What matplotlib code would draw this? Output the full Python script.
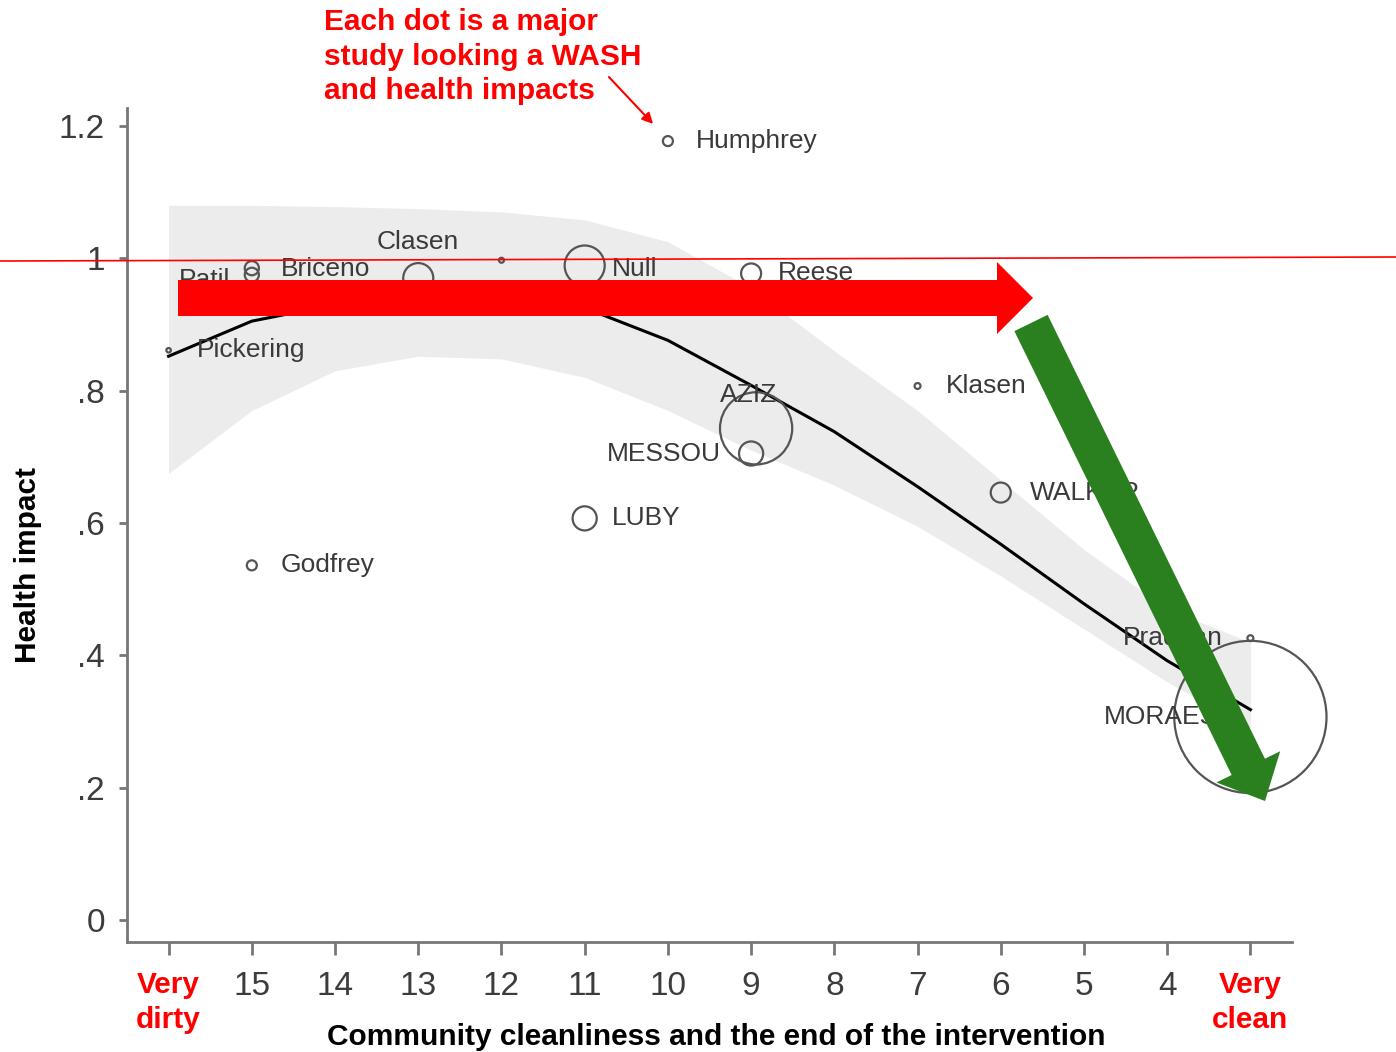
import numpy as np
import matplotlib.pyplot as plt
from matplotlib.patches import Polygon
from matplotlib.lines import Line2D
from matplotlib.transforms import Affine2D

plt.rcParams['font.family'] = ['Liberation Sans', 'DejaVu Sans']

# each study: cleanliness score at the end of the intervention, health impact, study weight
studies = ['Humphrey', 'Patil', 'Briceno', 'Clasen', '', 'Null', 'Reese', 'Pickering',
           'Klasen', 'AZIZ', 'MESSOU', 'LUBY', 'Godfrey', 'WALKER', 'Pradhan', 'MORAES']
cleanliness = [10.0, 15.0, 15.0, 13.0, 12.0, 11.0, 9.0, 16.0,
               7.0, 8.94, 9.0, 11.0, 15.0, 6.0, 3.0, 3.0]
impact = [1.177, 0.985, 0.975, 0.970, 0.997, 0.989, 0.977, 0.861,
          0.807, 0.743, 0.705, 0.607, 0.536, 0.646, 0.426, 0.307]
weight = [1.0, 2.0, 2.0, 9.0, 0.25, 16.0, 4.0, 0.2,
          0.35, 52.0, 5.8, 5.8, 1.0, 4.0, 0.35, 231.0]

# smoothed fit with confidence band
fit_x = [16, 15, 14, 13, 12, 11, 10, 9, 8, 7, 6, 5, 4, 3]
fit_y = [0.852, 0.905, 0.930, 0.945, 0.945, 0.925, 0.876, 0.808, 0.738, 0.655, 0.568, 0.478, 0.392, 0.318]
fit_lo = [0.675, 0.770, 0.830, 0.852, 0.848, 0.820, 0.770, 0.710, 0.657, 0.595, 0.520, 0.440, 0.360, 0.290]
fit_hi = [1.080, 1.080, 1.078, 1.075, 1.070, 1.058, 1.025, 0.955, 0.860, 0.770, 0.665, 0.560, 0.470, 0.420]

xtick_labels = ['Very\ndirty', '15', '14', '13', '12', '11', '10', '9', '8', '7', '6', '5', '4', 'Very\nclean']
yticks = [0, 0.2, 0.4, 0.6, 0.8, 1.0, 1.2]
ytick_labels = ['0', '.2', '.4', '.6', '.8', '1', '1.2']

# label placement (pixel offsets, alignment)
label_pos = {
    'Humphrey': (28, 0, 'left'), 'Patil': (-22, -12, 'right'), 'Briceno': (29, 6, 'left'),
    'Clasen': (0, 36, 'center'), 'Null': (27, -3, 'left'), 'Reese': (27, 0, 'left'),
    'Pickering': (28, 0, 'left'), 'Klasen': (28, 0, 'left'), 'AZIZ': (-7, 33, 'center'),
    'MESSOU': (-30, 0, 'right'), 'LUBY': (27, 0, 'left'), 'Godfrey': (29, 0, 'left'),
    'WALKER': (29, 0, 'left'), 'Pradhan': (-28, 0, 'right'), 'MORAES': (-32, 0, 'right'),
}

W, H = 1396, 1052
fig = plt.figure(figsize=(W / 100, H / 100), dpi=100)
ax = fig.add_axes([127 / W, 1 - 942 / H, (1292 - 127) / W, (942 - 108) / H])
px = Affine2D().scale(1 / W, -1 / H).translate(0, 1) + fig.transFigure

ax.fill_between(fit_x, fit_lo, fit_hi, color='#ececec', lw=0, zorder=1)
ax.plot(fit_x, fit_y, color='black', lw=2.2, zorder=2)
ax.scatter(cleanliness, impact, s=np.array(weight) * 52, facecolors='none',
           edgecolors='#555555', linewidths=1.6, clip_on=False, zorder=3)

for name, x, y in zip(studies, cleanliness, impact):
    if name not in label_pos:
        continue
    dx, dy, ha = label_pos[name]
    ax.annotate(name, (x, y), xytext=(dx, dy), textcoords='offset pixels',
                ha=ha, va='center', fontsize=19, color='#3a3a3a', zorder=4)

ax.set_xlim(16.5, 2.5)
ax.set_ylim(-0.033, 1.227)
ax.set_xticks(fit_x)
ax.set_xticklabels(xtick_labels)
ax.set_yticks(yticks)
ax.set_yticklabels(ytick_labels)
ax.tick_params(axis='x', length=9, width=2, color='#777777', labelsize=24,
               labelcolor='#3c3c3c', pad=12)
ax.tick_params(axis='y', length=6, width=2, color='#777777', labelsize=24,
               labelcolor='#3c3c3c', pad=10)
for lbl in (ax.get_xticklabels()[0], ax.get_xticklabels()[-1]):
    lbl.set_color('red')
    lbl.set_fontweight('bold')
    lbl.set_fontsize(21.5)
    lbl.set_linespacing(1.3)
for side in ('top', 'right'):
    ax.spines[side].set_visible(False)
for side in ('left', 'bottom'):
    ax.spines[side].set_color('#777777')
    ax.spines[side].set_linewidth(2)

ax.set_xlabel('Community cleanliness and the end of the intervention',
              fontsize=21.5, fontweight='bold')
ax.xaxis.set_label_coords(0.506, -0.097)
ax.set_ylabel('Health impact', fontsize=21.5, fontweight='bold')
ax.yaxis.set_label_coords(-0.073, 0.452)


def arrow_poly(x0, y0, x1, y1, w, hw, hl):
    d = np.array([x1 - x0, y1 - y0], float)
    d /= np.hypot(*d)
    n = np.array([-d[1], d[0]])
    p0, tip = np.array([x0, y0], float), np.array([x1, y1], float)
    base = tip - d * hl
    return [p0 + n * w / 2, base + n * w / 2, base + n * hw / 2, tip,
            base - n * hw / 2, base - n * w / 2, p0 - n * w / 2]


fig.add_artist(Line2D([0, W], [261, 257], transform=px, color='red', lw=1.2))
fig.add_artist(Polygon(arrow_poly(178, 298, 1033, 298, 36, 72, 36),
                       closed=True, transform=px, color='#ff0000', lw=0))
fig.add_artist(Polygon(arrow_poly(1031, 323, 1265, 801, 37, 71, 38),
                       closed=True, transform=px, color='#2a7f1e', lw=0))

fig.text(324, 8, 'Each dot is a major\nstudy looking a WASH\nand health impacts',
         transform=px, ha='left', va='top', fontsize=21.5, fontweight='bold',
         color='red', linespacing=1.3)
ax.annotate('', xy=(655, 126), xycoords=px, xytext=(607, 75), textcoords=px,
            arrowprops=dict(arrowstyle='-|>', color='red', lw=1.5, mutation_scale=16),
            annotation_clip=False)

fig.savefig('out.png', dpi=100)
